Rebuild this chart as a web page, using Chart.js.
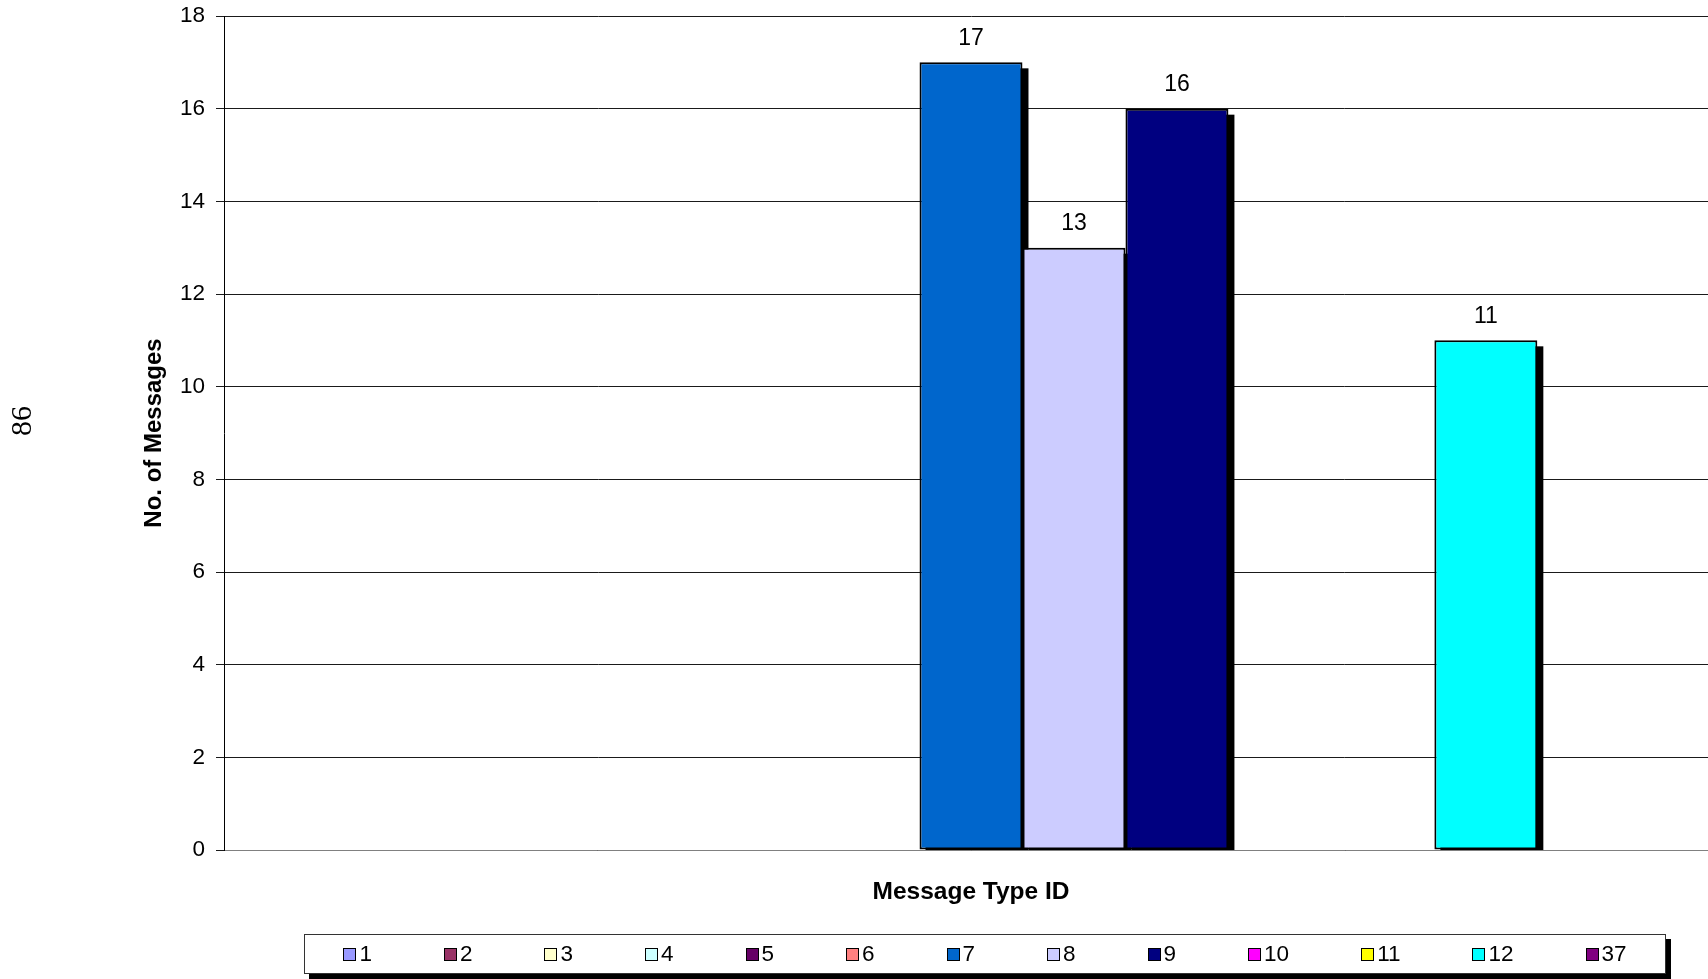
<!DOCTYPE html>
<html>
<head>
<meta charset="utf-8">
<script src="https://cdn.jsdelivr.net/npm/chart.js@4.4.1/dist/chart.umd.min.js"></script>
<style>
    html, body { margin: 0; padding: 0; background: #fff; overflow: hidden; }
    #wrap { position: relative; width: 1708px; height: 979px; overflow: hidden; }
    canvas { display: block; }
    #legend {
        position: absolute; left: 304px; top: 934px; width: 1360px; height: 38px;
        border: 1px solid #333; box-shadow: 5px 5px 0 #000; background: #fff;
        display: flex; align-items: center; justify-content: center; gap: 72px;
        font: 22.5px "Liberation Sans", Arial, sans-serif; color: #000;
    }
    .item { display: flex; align-items: center; }
    .swatch { width: 11px; height: 11px; border: 1.5px solid #000; margin-right: 3px; }
</style>
</head>
<body>
<div id="wrap">
    <canvas id="msgChart" width="1718" height="979"></canvas>
    <div id="legend"></div>
</div>
<script>
// Message type IDs (one series each) and their counts
const messageTypes = ['1', '2', '3', '4', '5', '6', '7', '8', '9', '10', '11', '12', '37'];
const messageCounts = [null, null, null, null, null, null, 17, 13, 16, null, null, 11, null];
const seriesColors = ['#9999FF', '#993366', '#FFFFCC', '#CCFFFF', '#660066', '#FF8080',
    '#0066CC', '#CCCCFF', '#000080', '#FF00FF', '#FFFF00', '#00FFFF', '#800080'];
const yTicks = [0, 2, 4, 6, 8, 10, 12, 14, 16, 18];

const fontFamily = '"Liberation Sans", Arial, sans-serif';
Chart.defaults.font.family = fontFamily;
Chart.defaults.color = '#000';

// black drop shadow behind bars + value labels on top
const barExtras = {
    id: 'barExtras',
    beforeDatasetsDraw(chart) {
        const { ctx, chartArea: a } = chart;
        ctx.save();
        ctx.beginPath();
        ctx.rect(a.left, a.top - 40, a.right - a.left, a.bottom - a.top + 40);
        ctx.clip();
        ctx.fillStyle = '#000';
        chart.data.datasets.forEach((ds, i) => {
            chart.getDatasetMeta(i).data.forEach((bar, j) => {
                if (ds.data[j] == null) return;
                const p = bar.getProps(['x', 'y', 'base', 'width'], true);
                ctx.fillRect(p.x - p.width / 2 + 6, p.y + 6, p.width, p.base - p.y);
            });
        });
        ctx.restore();
    },
    afterDatasetsDraw(chart) {
        const { ctx } = chart;
        ctx.save();
        ctx.font = '23px ' + fontFamily;
        ctx.fillStyle = '#000';
        ctx.textAlign = 'center';
        ctx.textBaseline = 'middle';
        chart.data.datasets.forEach((ds, i) => {
            chart.getDatasetMeta(i).data.forEach((bar, j) => {
                if (ds.data[j] == null) return;
                const p = bar.getProps(['x', 'y'], true);
                ctx.fillText(String(ds.data[j]), p.x, p.y - 24);
            });
        });
        ctx.restore();
    },
    afterDraw(chart) {
        // page number of the scanned page, printed sideways
        const { ctx } = chart;
        ctx.save();
        ctx.translate(23, 421);
        ctx.rotate(-Math.PI / 2);
        ctx.font = '30px "Liberation Serif", "Times New Roman", serif';
        ctx.fillStyle = '#000';
        ctx.textAlign = 'center';
        ctx.textBaseline = 'middle';
        ctx.fillText('86', 0, 0);
        ctx.restore();
    }
};

const ctx = document.getElementById('msgChart').getContext('2d');
new Chart(ctx, {
    type: 'bar',
    data: {
        labels: [''],
        datasets: messageTypes.map((t, i) => ({
            label: t,
            data: [messageCounts[i]],
            backgroundColor: seriesColors[i],
            borderColor: '#000',
            borderWidth: 2,
            borderSkipped: false
        }))
    },
    options: {
        responsive: false,
        animation: false,
        layout: { padding: { top: 16, left: 0, right: 0, bottom: 0 } },
        datasets: { bar: { categoryPercentage: 0.896, barPercentage: 1 } },
        plugins: {
            legend: { display: false },
            tooltip: { enabled: false }
        },
        scales: {
            x: {
                grid: { display: false },
                ticks: { display: false },
                border: { color: '#808080' },
                title: {
                    display: true,
                    text: 'Message Type ID',
                    font: { size: 24.5, weight: 'bold' },
                    padding: { top: 0, bottom: 72 }
                },
                afterFit: (s) => { s.height = 129; }
            },
            y: {
                min: yTicks[0],
                max: yTicks[yTicks.length - 1],
                afterBuildTicks: (s) => { s.ticks = yTicks.map(v => ({ value: v })); },
                ticks: { font: { size: 22.5 }, padding: 11 },
                grid: { color: '#1a1a1a', tickLength: 8 },
                border: { color: '#000' },
                title: {
                    display: true,
                    text: 'No. of Messages',
                    font: { size: 24, weight: 'bold' },
                    padding: { top: 140, bottom: 0 }
                },
                afterFit: (s) => {
                    s.width = 224;
                    s.paddingTop = 0;
                    s.paddingBottom = 0;
                }
            }
        }
    },
    plugins: [barExtras]
});

// legend row
const legendEl = document.getElementById('legend');
messageTypes.forEach((t, i) => {
    const item = document.createElement('div');
    item.className = 'item';
    const sw = document.createElement('span');
    sw.className = 'swatch';
    sw.style.background = seriesColors[i];
    const txt = document.createElement('span');
    txt.textContent = t;
    item.appendChild(sw);
    item.appendChild(txt);
    legendEl.appendChild(item);
});
</script>
</body>
</html>
